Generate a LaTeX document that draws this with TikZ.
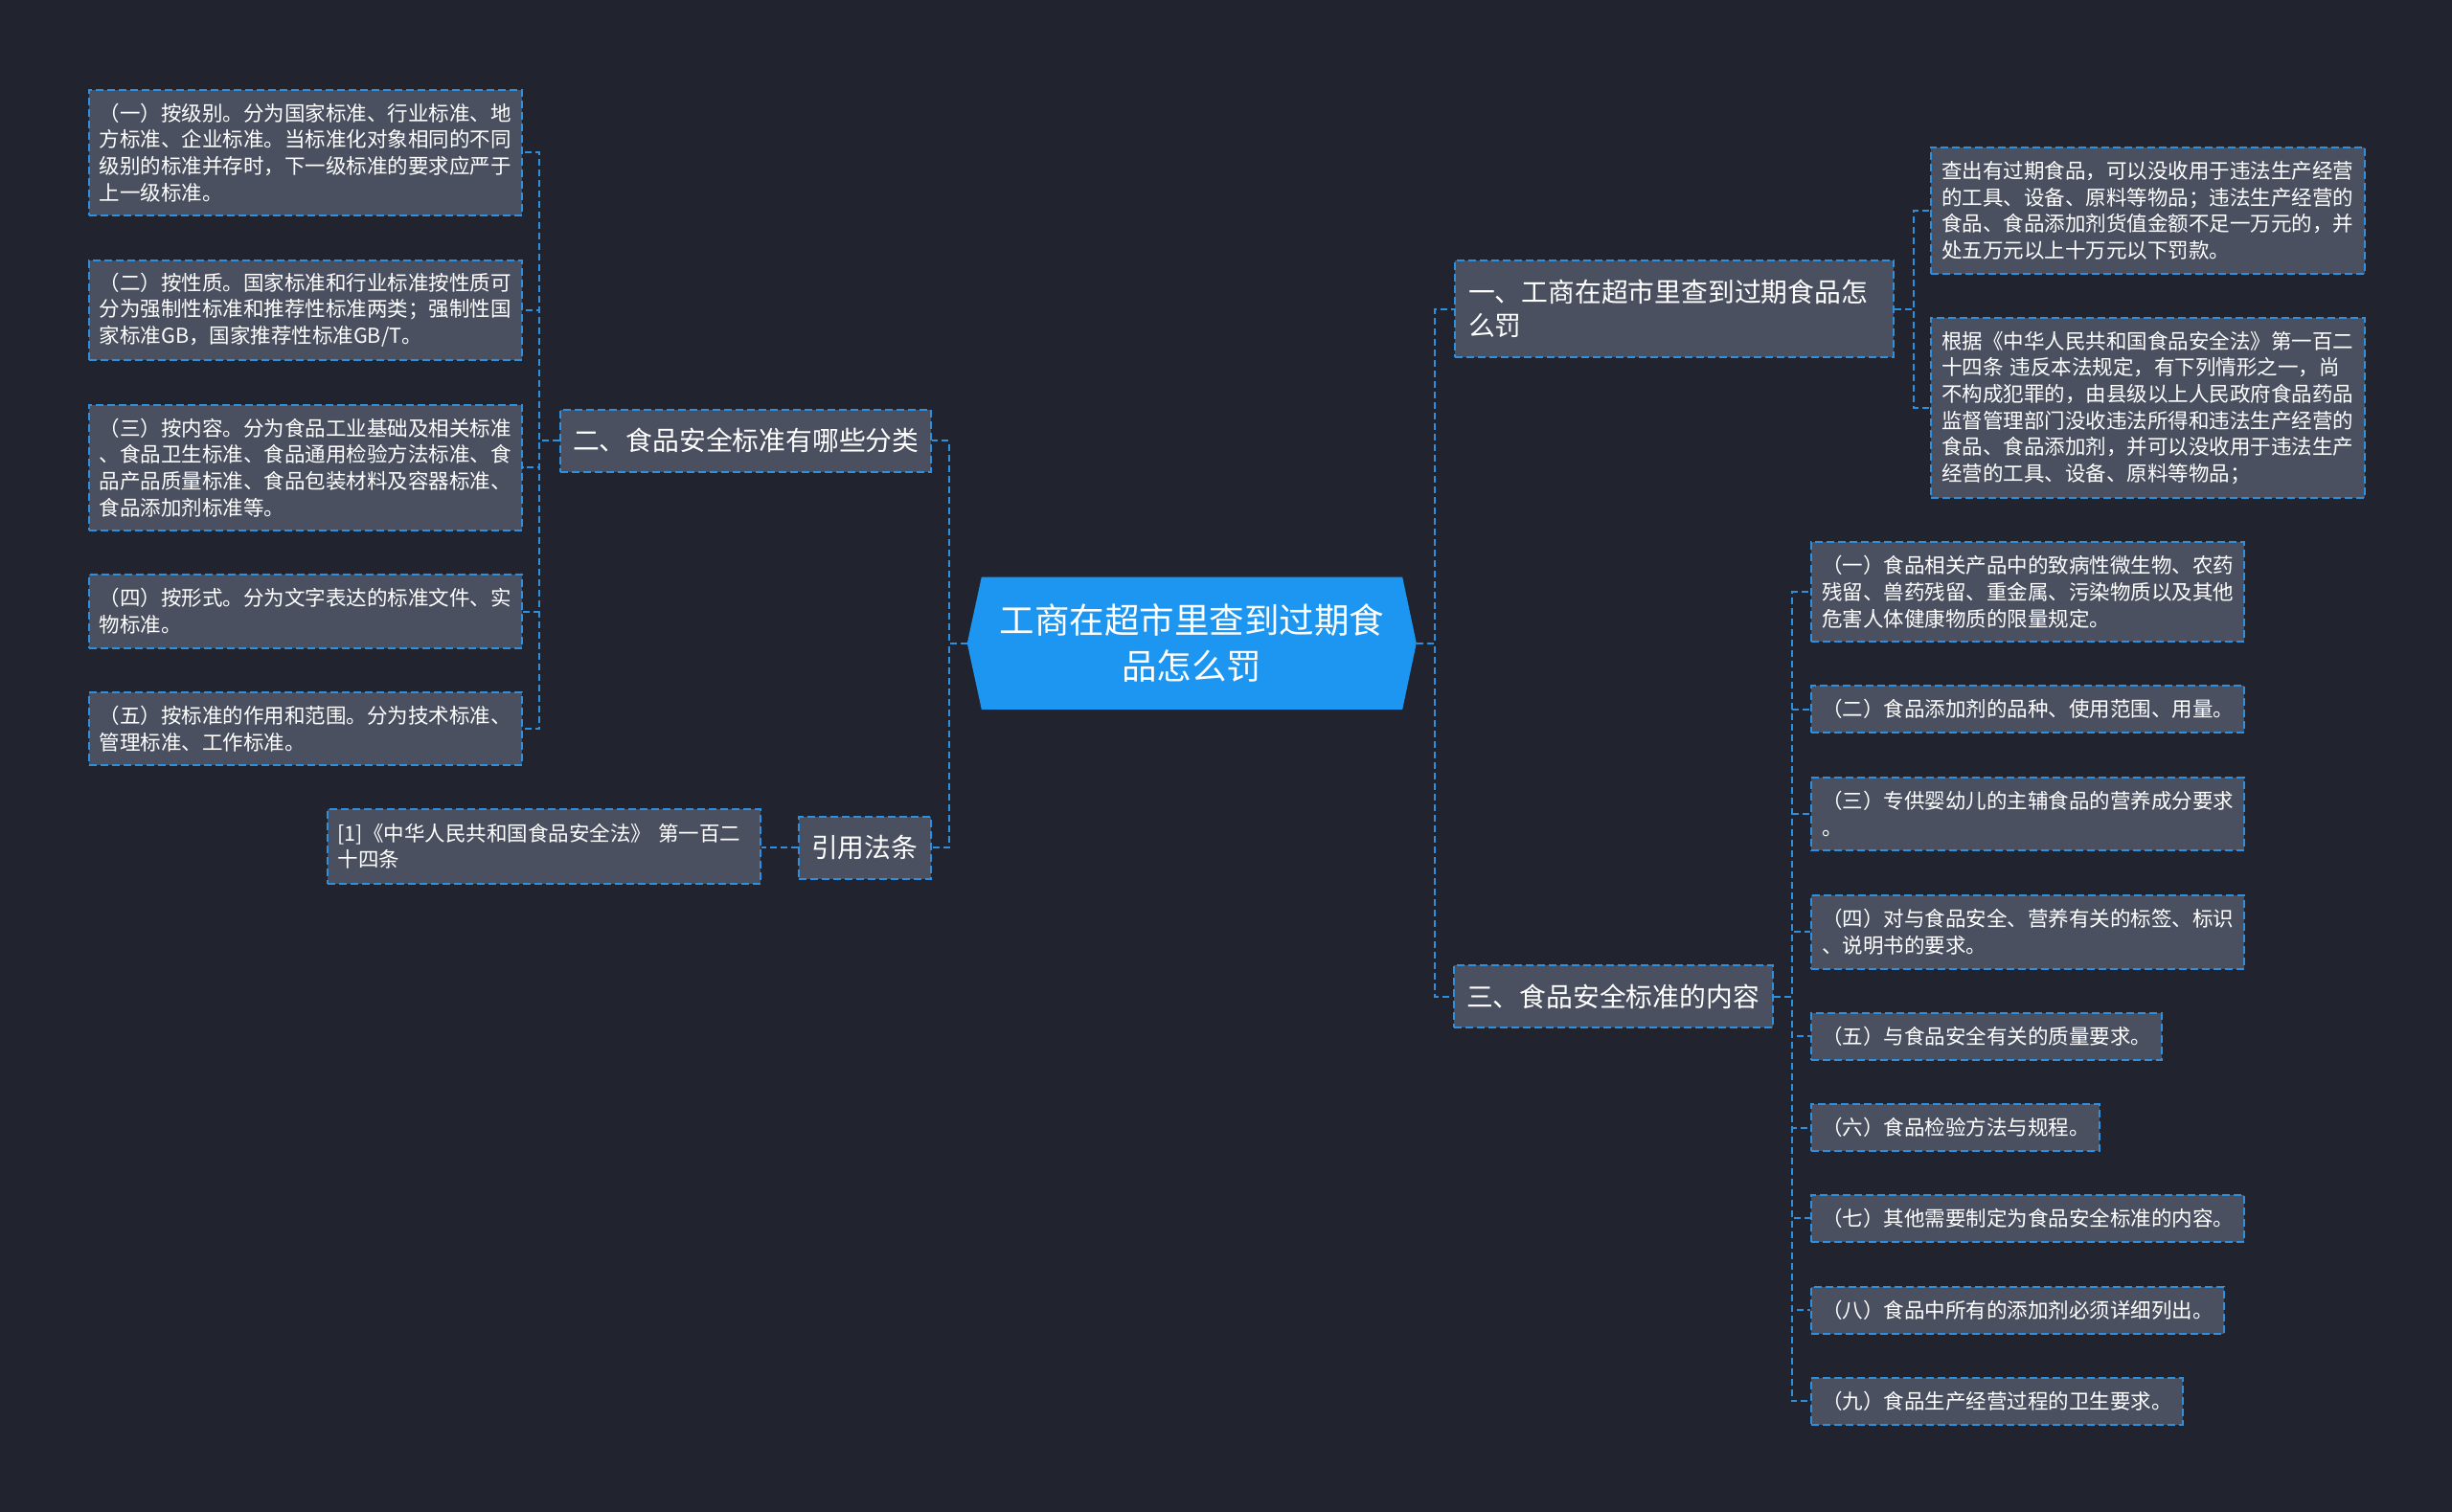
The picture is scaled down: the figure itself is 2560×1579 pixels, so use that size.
\documentclass[tikz,border=0pt]{standalone}
\usepackage{fontspec}
\setmainfont{Noto Sans CJK SC}
\definecolor{bgcol}{RGB}{33,36,46}
\definecolor{boxcol}{RGB}{74,80,96}
\definecolor{linecol}{RGB}{45,143,222}
\definecolor{rootcol}{RGB}{28,150,240}
\begin{document}
\begin{tikzpicture}[x=1pt,y=-1pt,
  conn/.style={draw=linecol, line width=2pt, dash pattern=on 7pt off 4pt},
  box/.style={draw=linecol, line width=2pt, dash pattern=on 8pt off 4pt, fill=boxcol, text=white,
    inner xsep=11pt, inner ysep=0pt, anchor=north west, align=left},
  leaf/.style={box, font=\fontsize{21.5pt}{27.7pt}\selectfont},
  branch/.style={box, font=\fontsize{27.8pt}{35pt}\selectfont, inner xsep=13pt},
  rootshape/.style={minimum width=468.6pt, minimum height=138pt, inner sep=0pt},
  roottext/.style={text=white, align=center, font=\fontsize{36.5pt}{48pt}\selectfont}
]
\useasboundingbox (0,0) rectangle (2560,1579);
\fill[bgcol] (0,0) rectangle (2560,1579);

% root
\path node[rootshape] (root) at (1244.3,671.7) {};
\fill[rootcol] (root.west) -- ([xshift=15pt]root.north west) -- ([xshift=-14.6pt]root.north east)
  -- (root.east) -- ([xshift=-14.6pt]root.south east) -- ([xshift=15pt]root.south west) -- cycle;
\node[roottext] (rootlabel) at (root.center) {工商在超市里查到过期食\\品怎么罚};

% branches
\node[branch, text width=361pt, minimum height=65pt] (n2) at (584,426.7) {二、食品安全标准有哪些分类};
\node[branch, text width=112pt, minimum height=65pt] (n4) at (833,851.7) {引用法条};
\node[branch, inner xsep=14pt, text width=430pt, minimum height=101.6pt] (n1) at (1518,270.7) {一、工商在超市里查到过期食品怎\\么罚};
\node[branch, text width=307pt, minimum height=65pt] (n3) at (1517,1007) {三、食品安全标准的内容};

% left leaves
\node[leaf, text width=430pt, minimum height=131.3pt] (b1) at (91.7,92.7) {（一）按级别。分为国家标准、行业标准、地\\方标准、企业标准。当标准化对象相同的不同\\级别的标准并存时，下一级标准的要求应严于\\上一级标准。};
\node[leaf, text width=430pt, minimum height=104pt] (b2) at (91.7,270.7) {（二）按性质。国家标准和行业标准按性质可\\分为强制性标准和推荐性标准两类；强制性国\\家标准GB，国家推荐性标准GB/T。};
\node[leaf, text width=430pt, minimum height=131.3pt] (b3) at (91.7,421.7) {（三）按内容。分为食品工业基础及相关标准\\、食品卫生标准、食品通用检验方法标准、食\\品产品质量标准、食品包装材料及容器标准、\\食品添加剂标准等。};
\node[leaf, text width=430pt, minimum height=77pt] (b4) at (91.7,599) {（四）按形式。分为文字表达的标准文件、实\\物标准。};
\node[leaf, text width=430pt, minimum height=76pt] (b5) at (91.7,722) {（五）按标准的作用和范围。分为技术标准、\\管理标准、工作标准。};

\node[leaf, text width=430.3pt, minimum height=77.7pt] (r1) at (340.7,844) {[1]《中华人民共和国食品安全法》 第一百二\\十四条};

% right top leaves
\node[leaf, text width=431pt, minimum height=132.3pt] (a1) at (2015,152.7) {查出有过期食品，可以没收用于违法生产经营\\的工具、设备、原料等物品；违法生产经营的\\食品、食品添加剂货值金额不足一万元的，并\\处五万元以上十万元以下罚款。};
\node[leaf, text width=431pt, minimum height=188.3pt] (a2) at (2015,330.7) {根据《中华人民共和国食品安全法》第一百二\\十四条 违反本法规定，有下列情形之一，尚\\不构成犯罪的，由县级以上人民政府食品药品\\监督管理部门没收违法所得和违法生产经营的\\食品、食品添加剂，并可以没收用于违法生产\\经营的工具、设备、原料等物品；};

% right bottom leaves
\node[leaf, text width=430pt, minimum height=104pt] (c1) at (1890,565) {（一）食品相关产品中的致病性微生物、农药\\残留、兽药残留、重金属、污染物质以及其他\\危害人体健康物质的限量规定。};
\node[leaf, text width=430pt, minimum height=49.3pt] (c2) at (1890,715) {（二）食品添加剂的品种、使用范围、用量。};
\node[leaf, text width=430pt, minimum height=76.3pt] (c3) at (1890,811) {（三）专供婴幼儿的主辅食品的营养成分要求\\。};
\node[leaf, text width=430pt, minimum height=76.7pt] (c4) at (1890,934) {（四）对与食品安全、营养有关的标签、标识\\、说明书的要求。};
\node[leaf, text width=344pt, minimum height=49pt] (c5) at (1890,1056.7) {（五）与食品安全有关的质量要求。};
\node[leaf, text width=279pt, minimum height=49pt] (c6) at (1890,1152) {（六）食品检验方法与规程。};
\node[leaf, text width=430pt, minimum height=49.3pt] (c7) at (1890,1246.7) {（七）其他需要制定为食品安全标准的内容。};
\node[leaf, text width=409pt, minimum height=49pt] (c8) at (1890,1342.7) {（八）食品中所有的添加剂必须详细列出。};
\node[leaf, text width=365.5pt, minimum height=49pt] (c9) at (1890,1437.7) {（九）食品生产经营过程的卫生要求。};

% connectors
\draw[conn] (root.west) -- ++(-19,0) |- (n2.east);
\draw[conn] (root.west) -- ++(-19,0) |- (n4.east);
\draw[conn] (root.east) -- ++(19,0) |- (n1.west);
\draw[conn] (root.east) -- ++(19,0) |- (n3.west);
\foreach \c in {b1,b2,b3,b4,b5}{
  \draw[conn] (n2.west) -- ++(-20.7,0) |- (\c.east);
}
\draw[conn] (n4.west) -- (n4.west -| r1.east);
\foreach \c in {a1,a2}{
  \draw[conn] (n1.east) -- ++(20,0) |- (\c.west);
}
\foreach \c in {c1,c2,c3,c4,c5,c6,c7,c8,c9}{
  \draw[conn] (n3.east) -- ++(19,0) |- (\c.west);
}
\end{tikzpicture}
\end{document}
